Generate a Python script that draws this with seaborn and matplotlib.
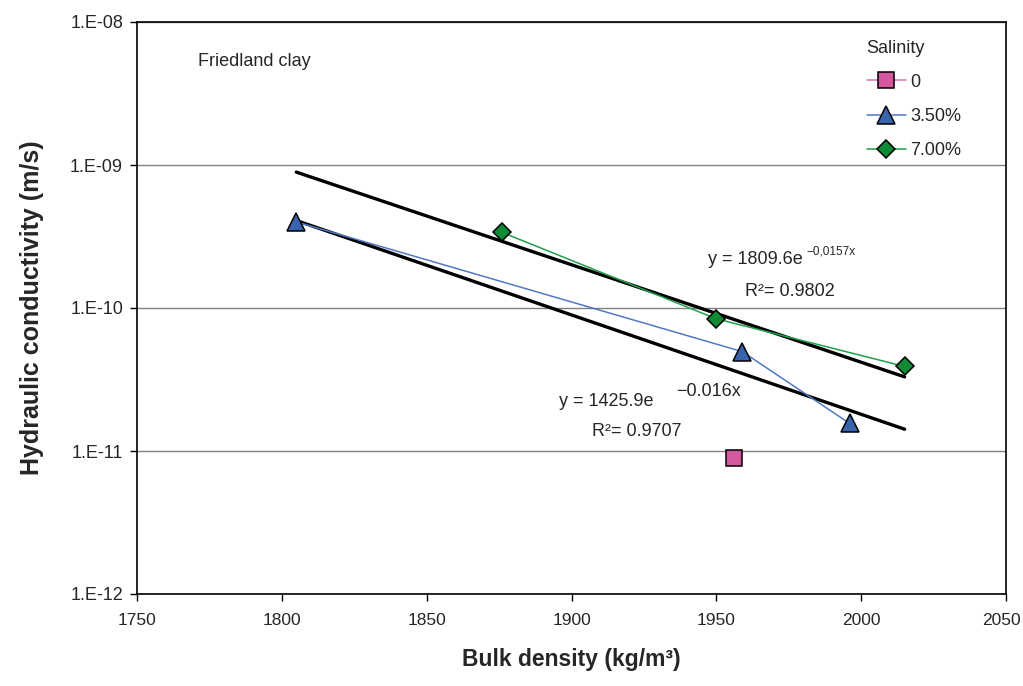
import numpy as np
import pandas as pd
import seaborn as sns
import matplotlib
matplotlib.use("Agg")
import matplotlib.pyplot as plt
from matplotlib.lines import Line2D
from matplotlib.ticker import FixedLocator, NullLocator
from matplotlib.transforms import ScaledTranslation

# ---------------- data ----------------
sal0_x = [1956]
sal0_y = [9.0e-12]
sal35_x = [1805, 1959, 1996]
sal35_y = [4.0e-10, 4.95e-11, 1.56e-11]
sal70_x = [1876, 1950, 2015]
sal70_y = [3.38e-10, 8.4e-11, 3.9e-11]

# exponential trend lines (from displayed equations)
trend_hi = (1809.6, -0.0157)
trend_lo = (1425.9, -0.016)
trend_range = [1805, 2015]

x_ticks = [1750, 1800, 1850, 1900, 1950, 2000, 2050]
y_ticks = [1e-12, 1e-11, 1e-10, 1e-9, 1e-8]
y_tick_labels = ["1.E-12", "1.E-11", "1.E-10", "1.E-09", "1.E-08"]
legend_labels = ["0", "3.50%", "7.00%"]

# ---------------- style ----------------
sns.set_theme(style="white")
plt.rcParams["font.family"] = ["Liberation Sans", "DejaVu Sans"]

W, H = 1023, 686
AX_L, AX_R, AX_T, AX_B = 137, 1006, 22, 594
fig = plt.figure(figsize=(W / 100, H / 100), dpi=100)
ax = fig.add_axes([AX_L / W, 1 - AX_B / H, (AX_R - AX_L) / W, (AX_B - AX_T) / H])

pink_fill, pink_line = "#D4589E", "#DA74B4"
blue_fill, blue_line = "#3A63AE", "#5078C4"
green_fill, green_line = "#0E8B34", "#1EA04A"

# trend lines
tx = np.linspace(trend_range[0], trend_range[1], 50)
for a, b in (trend_hi, trend_lo):
    sns.lineplot(x=tx, y=a * np.exp(b * tx), color="black", lw=2.4, ax=ax, zorder=3)

df35 = pd.DataFrame({"x": sal35_x, "y": sal35_y})
df70 = pd.DataFrame({"x": sal70_x, "y": sal70_y})
df0 = pd.DataFrame({"x": sal0_x, "y": sal0_y})

mk = dict(markeredgecolor="black", markeredgewidth=1.1)
sns.lineplot(data=df35, x="x", y="y", sort=False, estimator=None, color=blue_line,
             lw=1.1, marker="^", markersize=13, markerfacecolor=blue_fill, ax=ax, zorder=4, **mk)
sns.lineplot(data=df70, x="x", y="y", sort=False, estimator=None, color=green_line,
             lw=1.1, marker="D", markersize=9.5, markerfacecolor=green_fill, ax=ax, zorder=4, **mk)
sns.lineplot(data=df0, x="x", y="y", sort=False, estimator=None, color=pink_line,
             lw=1.1, marker="s", markersize=11, markerfacecolor=pink_fill, ax=ax, zorder=4, **mk)

ax.set_yscale("log")
ax.set_xlim(1750, 2050)
ax.set_ylim(1e-12, 1e-8)
ax.xaxis.set_major_locator(FixedLocator(x_ticks))
ax.set_xticklabels([str(v) for v in x_ticks])
ax.yaxis.set_major_locator(FixedLocator(y_ticks))
ax.yaxis.set_minor_locator(NullLocator())
ax.set_yticklabels(y_tick_labels)
ax.tick_params(axis="both", which="major", direction="out", length=5, width=1,
               color="black", labelsize=13, left=True, bottom=True)
ax.tick_params(axis="y", pad=5)
ax.tick_params(axis="x", pad=9, labelsize=12.5)
ax.grid(axis="y", color="#808080", lw=1)
ax.grid(axis="x", visible=False)
for s in ax.spines.values():
    s.set_color("black")
    s.set_linewidth(1.2)

# keep the last x tick label inside the canvas
last_lbl = ax.get_xticklabels()[-1]
last_lbl.set_transform(last_lbl.get_transform() + ScaledTranslation(-5 / 100, 0, fig.dpi_scale_trans))

ax.set_xlabel("Bulk density (kg/m³)", fontsize=16.5, fontweight="bold", labelpad=14)
ax.set_ylabel("Hydraulic conductivity (m/s)", fontsize=18, fontweight="bold", labelpad=19)

# legend
handles = [
    Line2D([], [], color=pink_line, lw=1.1, marker="s", markersize=11,
           markerfacecolor=pink_fill, **mk),
    Line2D([], [], color=blue_line, lw=1.1, marker="^", markersize=13,
           markerfacecolor=blue_fill, **mk),
    Line2D([], [], color=green_line, lw=1.1, marker="D", markersize=9.5,
           markerfacecolor=green_fill, **mk),
]
ax.legend(handles, legend_labels, title="Salinity", frameon=False, fontsize=13,
          title_fontsize=13, loc="upper left",
          bbox_to_anchor=((863 - AX_L) / (AX_R - AX_L), (AX_B - 36) / (AX_B - AX_T)),
          handlelength=2.2, handletextpad=0.2, labelspacing=0.95, alignment="left",
          borderpad=0.2, borderaxespad=0)

def ftext(px, py, s, **kw):
    fig.text(px / W, 1 - py / H, s, va="center", ha="left", **kw)

ftext(198, 62, "Friedland clay", fontsize=13)
ftext(708, 260, "y = 1809.6e", fontsize=13)
ftext(806, 251, "\u22120,0157x", fontsize=8.5)
ftext(745, 291, "R\u00b2= 0.9802", fontsize=13)
ftext(559, 402, "y = 1425.9e", fontsize=13)
ftext(676, 391, "\u22120.016x", fontsize=13)
ftext(592, 432, "R\u00b2= 0.9707", fontsize=13)

fig.savefig("out.png", dpi=100)
